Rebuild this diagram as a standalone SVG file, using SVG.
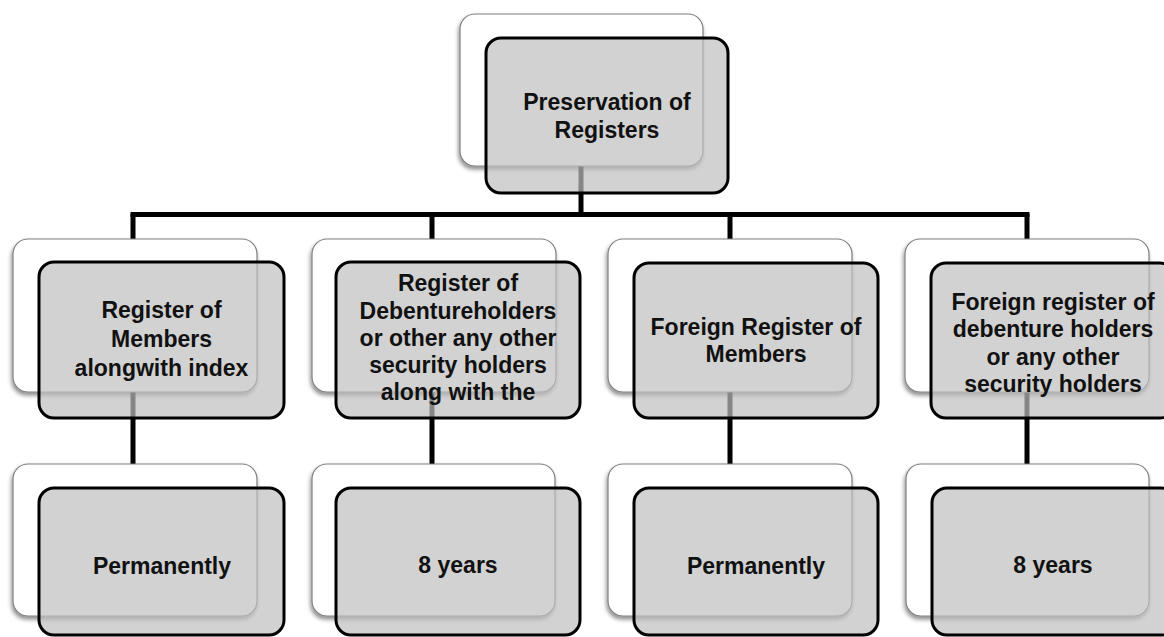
<svg xmlns="http://www.w3.org/2000/svg" width="1164" height="637" viewBox="0 0 1164 637">
<style>
.back{fill:#ffffff;stroke:#7f7f7f;stroke-width:1.2}
.front{fill:#bfbfbf;fill-opacity:0.7;stroke:#000;stroke-width:3}
.conn{stroke:#000;stroke-width:5;fill:none}
text{font-family:"Liberation Sans",Arial,sans-serif;font-weight:bold;font-size:23px;fill:#111;text-anchor:middle}
</style>
<defs>
<filter id="sh" x="-10%" y="-10%" width="120%" height="125%">
<feDropShadow dx="-1" dy="3" stdDeviation="2" flood-color="#000" flood-opacity="0.45"/>
</filter>
</defs>
<rect width="1164" height="637" fill="#fff"/>
<g id="connectors">
<line class="conn" x1="581" y1="100" x2="581" y2="214.5"/>
<line class="conn" x1="130.5" y1="214.5" x2="1029.5" y2="214.5"/>
<line class="conn" x1="133" y1="214" x2="133" y2="480"/>
<line class="conn" x1="432" y1="214" x2="432" y2="480"/>
<line class="conn" x1="730" y1="214" x2="730" y2="480"/>
<line class="conn" x1="1027" y1="214" x2="1027" y2="480"/>
</g>
<g id="root">
<rect class="back" filter="url(#sh)" x="460" y="14" width="243" height="152" rx="15"/>
<rect class="front" x="486" y="38" width="242" height="155" rx="15"/>
<text x="607" y="110">Preservation of</text>
<text x="607" y="138">Registers</text>
</g>
<g id="reg-members">
<rect class="back" filter="url(#sh)" x="13" y="239" width="244" height="153" rx="15"/>
<rect class="front" x="39" y="262" width="245" height="156" rx="15"/>
<text x="161.5" y="318">Register of</text>
<text x="161.5" y="347">Members</text>
<text x="161.5" y="376">alongwith index</text>
</g>
<g id="reg-debenture">
<rect class="back" filter="url(#sh)" x="312" y="239" width="244" height="153" rx="15"/>
<rect class="front" x="336" y="262" width="244" height="156" rx="15"/>
<text x="458" y="291">Register of</text>
<text x="458" y="318.5">Debentureholders</text>
<text x="458" y="346">or other any other</text>
<text x="458" y="373">security holders</text>
<text x="458" y="400">along with the</text>
</g>
<g id="foreign-members">
<rect class="back" filter="url(#sh)" x="608" y="239" width="244" height="153" rx="15"/>
<rect class="front" x="634" y="263" width="244" height="155" rx="15"/>
<text x="756" y="335">Foreign Register of</text>
<text x="756" y="362">Members</text>
</g>
<g id="foreign-debenture">
<rect class="back" filter="url(#sh)" x="905" y="239" width="244" height="153" rx="15"/>
<rect class="front" x="931" y="263" width="244" height="155" rx="15"/>
<text x="1053" y="310">Foreign register of</text>
<text x="1053" y="337">debenture holders</text>
<text x="1053" y="364.5">or any other</text>
<text x="1053" y="392">security holders</text>
</g>
<g id="perm-1">
<rect class="back" filter="url(#sh)" x="13" y="464" width="244" height="152" rx="15"/>
<rect class="front" x="39" y="488" width="245" height="147" rx="15"/>
<text x="162" y="574">Permanently</text>
</g>
<g id="years-1">
<rect class="back" filter="url(#sh)" x="312" y="464" width="243" height="152" rx="15"/>
<rect class="front" x="336" y="488" width="244" height="147" rx="15"/>
<text x="458" y="573">8 years</text>
</g>
<g id="perm-2">
<rect class="back" filter="url(#sh)" x="608" y="464" width="244" height="152" rx="15"/>
<rect class="front" x="634" y="488" width="244" height="147" rx="15"/>
<text x="756" y="574">Permanently</text>
</g>
<g id="years-2">
<rect class="back" filter="url(#sh)" x="906" y="464" width="243" height="152" rx="15"/>
<rect class="front" x="932" y="488" width="244" height="147" rx="15"/>
<text x="1053" y="573">8 years</text>
</g>
</svg>
